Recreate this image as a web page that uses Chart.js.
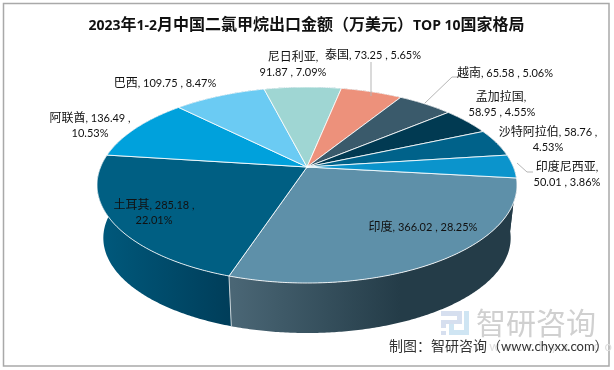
<!DOCTYPE html>
<html>
<head>
<meta charset="utf-8">
<script src="https://cdn.jsdelivr.net/npm/chart.js@4/dist/chart.umd.min.js"></script>
<style>
  html, body { margin: 0; padding: 0; background: #fff; }
  canvas { display: block; }
</style>
</head>
<body>
<canvas id="pieChart" width="614" height="370"></canvas>
<script>
const chartTitle = '2023年1-2月中国二氯甲烷出口金额（万美元）TOP 10国家格局';
const countries = ['印度', '土耳其', '阿联酋', '巴西', '尼日利亚', '泰国', '越南', '孟加拉国', '沙特阿拉伯', '印度尼西亚'];
const amounts = [366.02, 285.18, 136.49, 109.75, 91.87, 73.25, 65.58, 58.95, 58.76, 50.01];
const shares = ['28.25%', '22.01%', '10.53%', '8.47%', '7.09%', '5.65%', '5.06%', '4.55%', '4.53%', '3.86%'];
const sliceColors = ['#5e90a9', '#005f83', '#00a1dc', '#6bcbf3', '#9fd6d3', '#ed917b', '#3a5a6b', '#013a52', '#00628a', '#0b94cc'];

// where each label sits: [x, y of first line, x of second line or null when one line]
const labelSpots = [
  [423, 227, null],
  [154, 205, 154],
  [90, 118, 90],
  [165, 83, null],
  [293, 57, 293],
  [373, 55, null],
  [505, 73, null],
  [501, 97, 502],
  [548, 132, 548],
  [567, 167, 567]
];
const latinFont = '11px Lato, sans-serif';
const cjkFont = '12px "Noto Sans CJK SC", sans-serif';

// pie projection (perspective disc seen from above)
const apexX = 307, apexY = 167, radX = 206.4, radY = 94.7, tilt = 0.1837;
const depthY = 53.5, bottomScale = 0.97;

function topPoint(angle) {
  const u = Math.cos(angle), v = Math.sin(angle), w = 1 - tilt * v;
  return [apexX + radX * u / w, apexY + radY * v / w];
}
function bottomPoint(angle) {
  const u = Math.cos(angle), v = Math.sin(angle), w = 1 - tilt * v;
  return [apexX + bottomScale * radX * u / w, apexY + depthY + bottomScale * radY * v / w];
}
function arcPoints(fn, from, to) {
  const pts = [];
  const steps = Math.max(2, Math.ceil((to - from) / 0.01));
  for (let i = 0; i <= steps; i++) pts.push(fn(from + (to - from) * i / steps));
  return pts;
}
function tracePoints(ctx, pts, keepGoing) {
  pts.forEach((p, i) => {
    if (i === 0 && !keepGoing) ctx.moveTo(p[0], p[1]);
    else ctx.lineTo(p[0], p[1]);
  });
}

// latin and chinese runs use different fonts, as in the original
function drawMixed(ctx, text, x, baseY, cjk, latin, center) {
  const runs = text.match(/[\x00-\x7f]+|[^\x00-\x7f]+/g);
  const fontOf = run => (run.charCodeAt(0) < 128 ? latin : cjk);
  let total = 0;
  runs.forEach(run => {
    ctx.font = fontOf(run);
    total += ctx.measureText(run).width;
  });
  let cursor = center ? x - total / 2 : x;
  ctx.textAlign = 'left';
  ctx.textBaseline = 'alphabetic';
  runs.forEach(run => {
    ctx.font = fontOf(run);
    ctx.fillText(run, cursor, baseY);
    cursor += ctx.measureText(run).width;
  });
}

function sideFill(ctx, index) {
  if (index === 0) {
    const g = ctx.createLinearGradient(233, 0, 400, 0);
    g.addColorStop(0, '#4a6675');
    g.addColorStop(1, '#243c48');
    return g;
  }
  if (index === 1) {
    const g = ctx.createLinearGradient(99, 0, 233, 0);
    g.addColorStop(0, '#00597c');
    g.addColorStop(1, '#003d59');
    return g;
  }
  return index < 5 ? '#00597c' : '#243c48';
}

const pie3d = {
  id: 'pie3d',
  beforeDatasetsDraw(chart) {
    const ctx = chart.ctx;
    const arcs = chart.getDatasetMeta(0).data;
    ctx.save();
    // sides first, the top faces cover whatever is at the back
    arcs.forEach((arc, i) => {
      ctx.beginPath();
      tracePoints(ctx, arcPoints(topPoint, arc.startAngle, arc.endAngle));
      tracePoints(ctx, arcPoints(bottomPoint, arc.startAngle, arc.endAngle).reverse(), true);
      ctx.closePath();
      ctx.fillStyle = sideFill(ctx, i);
      ctx.fill();
    });
    // edge between the two front slices
    const seam = arcs[0].endAngle;
    ctx.strokeStyle = '#c9d3d8';
    ctx.lineWidth = 1;
    ctx.beginPath();
    ctx.moveTo(...topPoint(seam));
    ctx.lineTo(...bottomPoint(seam));
    ctx.stroke();

    arcs.forEach((arc, i) => {
      ctx.beginPath();
      ctx.moveTo(apexX, apexY);
      tracePoints(ctx, arcPoints(topPoint, arc.startAngle, arc.endAngle), true);
      ctx.closePath();
      ctx.fillStyle = sliceColors[i];
      ctx.fill();
      ctx.strokeStyle = 'rgba(255,255,255,0.85)';
      ctx.lineWidth = 1;
      ctx.stroke();
    });
    ctx.restore();
    return false;
  },
  afterDraw(chart) {
    const ctx = chart.ctx;
    ctx.save();

    // frame
    ctx.strokeStyle = '#a9a9a9';
    ctx.lineWidth = 1.5;
    ctx.strokeRect(3.5, 3.5, 605.5, 362.5);

    // leader lines
    ctx.strokeStyle = '#b5b5b5';
    ctx.lineWidth = 1;
    [
      [[371, 62], [371, 96]],
      [[458, 77], [452, 77], [425, 103]],
      [[533, 172], [527, 172], [517, 163]]
    ].forEach(line => {
      ctx.beginPath();
      tracePoints(ctx, line);
      ctx.stroke();
    });

    // watermark logo and name
    ctx.fillStyle = '#d6dfef';
    [[441, 311, 21, 5], [457, 311, 5, 13], [441, 320, 19, 4], [441, 320, 5, 8], [441, 331, 5, 4]]
      .forEach(r => ctx.fillRect(r[0], r[1], r[2], r[3]));
    ctx.fillStyle = '#cfe5f3';
    [[464, 311, 5, 24], [449, 330, 20, 5], [449, 324, 5, 11]]
      .forEach(r => ctx.fillRect(r[0], r[1], r[2], r[3]));
    ctx.textAlign = 'left';
    ctx.textBaseline = 'alphabetic';
    ctx.fillStyle = '#d0d0d0';
    ctx.font = '30px "Noto Sans CJK SC", sans-serif';
    ctx.fillText('智研咨询', 476, 334);
    ctx.fillStyle = '#dedede';
    ctx.font = '13px Lato, sans-serif';
    ctx.letterSpacing = '5px';
    ctx.fillText('www.chyxx.com', 474, 351);
    ctx.letterSpacing = '0px';

    // title
    ctx.fillStyle = '#111';
    drawMixed(ctx, chartTitle, 306.5, 30, 'bold 16px "Noto Sans CJK SC", sans-serif', 'bold 14px "Open Sans", sans-serif', true);

    // slice labels
    countries.forEach((name, i) => {
      const [x, y, x2] = labelSpots[i];
      if (x2 === null) {
        drawMixed(ctx, `${name}, ${amounts[i]} , ${shares[i]}`, x, y + 4, cjkFont, latinFont, true);
      } else if (i === 1 || i === 2 || i === 8) {
        drawMixed(ctx, `${name}, ${amounts[i]} ,`, x, y + 4, cjkFont, latinFont, true);
        drawMixed(ctx, shares[i], x2, y + 19, cjkFont, latinFont, true);
      } else {
        drawMixed(ctx, `${name},`, x, y + 4, cjkFont, latinFont, true);
        drawMixed(ctx, `${amounts[i]} , ${shares[i]}`, x2, y + 19, cjkFont, latinFont, true);
      }
    });

    // source line
    ctx.fillStyle = '#333';
    drawMixed(ctx, '制图：智研咨询（www.chyxx.com）', 389, 351, '14px "Noto Sans CJK SC", sans-serif', '13px Lato, sans-serif', false);
    ctx.restore();
  }
};

new Chart(document.getElementById('pieChart'), {
  type: 'pie',
  data: {
    labels: countries,
    datasets: [{ data: amounts, backgroundColor: sliceColors }]
  },
  options: {
    responsive: false,
    animation: false,
    rotation: 96.5,
    plugins: {
      legend: { display: false },
      tooltip: { enabled: false }
    }
  },
  plugins: [pie3d]
});
</script>
</body>
</html>
